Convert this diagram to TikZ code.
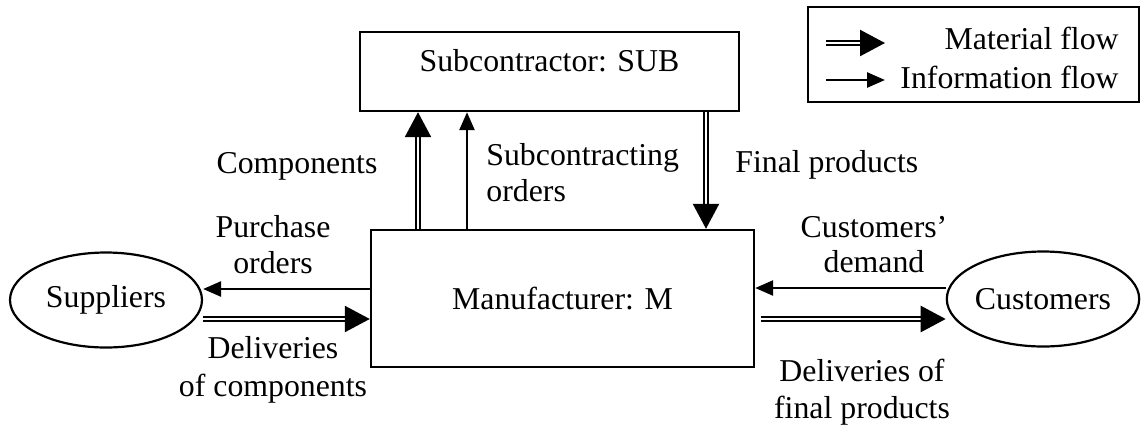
\documentclass[tikz,border=0pt]{standalone}
\usepackage{fontspec}
\setmainfont{Liberation Serif}
\usetikzlibrary{arrows.meta,shapes.geometric}
\tikzset{
  box/.style={draw, line width=1.2pt, inner sep=0pt},
  oval/.style={draw, ellipse, line width=1.1pt, inner sep=0pt, minimum width=96pt, minimum height=47.5pt},
  lbl/.style={inner sep=0pt, font=\fontsize{15.9}{17.8}\selectfont},
  lblwide/.style={inner sep=0pt, font=\fontsize{15.9}{18.8}\selectfont},
  mat/.style={double, double distance=1pt, line width=1.2pt, -{Triangle[length=12.5pt,width=13pt]}},
  info/.style={line width=1.3pt, -{Triangle[length=9pt,width=7.5pt]}},
}
\begin{document}
\begin{tikzpicture}[x=0.5pt,y=-0.5pt, font=\fontsize{15.9}{17.5}\selectfont]
\useasboundingbox (0,0) rectangle (1141,430);
% nodes
\node[box, minimum width=189.5pt, minimum height=39.5pt, text height=8pt, text depth=8pt] (sub) at (549.5,71.5) {Subcontractor: SUB};
\node[box, minimum width=191.5pt, minimum height=68.5pt] (man) at (562.5,298.5) {Manufacturer: M};
\node[oval] (sup) at (106,300) {Suppliers};
\node[oval] (cus) at (1043,299) {Customers};
\node[box, minimum width=165.5pt, minimum height=47.5pt] (leg) at (973.5,54.5) {};
% helper coordinates
\coordinate (xc) at (418,0);
\coordinate (xs) at (467,0);
\coordinate (xf) at (706,0);
\coordinate (yp) at (0,289);
\coordinate (yd) at (0,319);
\coordinate (yc) at (0,288);
\coordinate (ma) at (826,43);
\coordinate (mb) at (885,43);
\coordinate (ia) at (826,80);
\coordinate (ib) at (885,80);
% connectors
\draw[mat] (xc |- man.north) -- (xc |- sub.south);
\draw[info] (xs |- man.north) -- (xs |- sub.south);
\draw[mat] (xf |- sub.south) -- (xf |- man.north);
\draw[info] (man.west |- yp) -- (sup.east |- yp);
\draw[mat] (sup.east |- yd) -- (man.west |- yd);
\draw[info] (cus.west |- yc) -- (man.east |- yc);
\draw[mat] ([xshift=3pt]man.east |- yd) -- (cus.west |- yd);
\draw[mat] (ma) -- (mb);
\draw[info] (ia) -- (ib);
% labels
\node[lbl, anchor=base] (lcomp) at (297,173) {Components};
\node[lbl, anchor=north west, align=left] (lsub) at (486,143.5) {Subcontracting\\orders};
\node[lbl, anchor=base west] (lfin) at (735,172) {Final products};
\node[lbl, anchor=north, align=center] (lpur) at (273,215.5) {Purchase\\orders};
\node[lbl, anchor=north, align=center] (lcd) at (874,215.5) {Customers'\\demand};
\node[lblwide, anchor=north, align=center] (ldc) at (273,336.5) {Deliveries\\of components};
\node[lblwide, anchor=north, align=center] (ldf) at (862,358.5) {Deliveries of\\final products};
\node[lbl, anchor=base east] (lmat) at (1119,49) {Material flow};
\node[lbl, anchor=base east] (linf) at (1119,88) {Information flow};
\end{tikzpicture}
\end{document}
